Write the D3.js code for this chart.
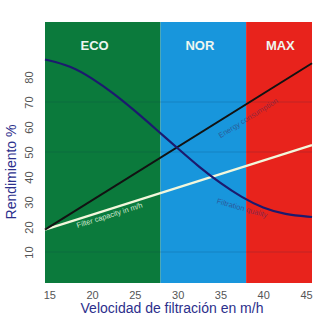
<!DOCTYPE html>
<html><head><meta charset="utf-8">
<script src="https://cdn.jsdelivr.net/npm/d3@7"></script>
<style>html,body{margin:0;padding:0;background:#fff;}svg{display:block;}</style>
</head><body>
<script>
const zoneNames = ["ECO","NOR","MAX"];
const zoneStart = [14.5, 28, 38];
const zoneEnd = [28, 38, 45.7];
const zoneLabelX = [20.3, 32.6, 42];
const zoneColors = ["#0b7a3c","#1896dc","#e8231c"];

const xTicks = [15,20,25,30,35,40,45];
const yTicks = [10,20,30,40,50,60,70,80];

const velocity = [14.5,17.5,20,22.5,25,27.5,30,32.5,35,37.5,40,42.5,45.7];
const rendimientoCurve = [87,84.5,79.5,73.5,66.5,59,51.5,44,37.5,31.8,27.5,25,24];
const lineVel = [15,45];
const blackLine = [20,84];
const capacityLine = [19.5,52];

const W=321,H=320;
const svg=d3.select("body").append("svg").attr("width",W).attr("height",H);
const x=d3.scaleLinear().domain([14.5,45.7]).range([45,312]);
const y=d3.scaleLinear().domain([-2.4,102]).range([283,22]);

svg.selectAll("rect.zone").data(zoneNames).enter().append("rect")
  .attr("x",(d,i)=>x(zoneStart[i])).attr("y",y(102))
  .attr("width",(d,i)=>x(zoneEnd[i])-x(zoneStart[i])).attr("height",y(-2.4)-y(102))
  .attr("fill",(d,i)=>zoneColors[i]);

svg.selectAll("line.grid").data([10,50,70]).enter().append("line")
  .attr("x1",x(14.5)).attr("x2",x(45.7)).attr("y1",d=>y(d)).attr("y2",d=>y(d))
  .attr("stroke","#0a2a50").attr("stroke-opacity",0.18).attr("stroke-width",1);

svg.selectAll("text.zone").data(zoneNames).enter().append("text")
  .attr("x",(d,i)=>x(zoneLabelX[i])).attr("y",50).attr("text-anchor","middle")
  .attr("font-family","Liberation Sans, Arial, sans-serif").attr("font-weight","bold")
  .attr("font-size",13).attr("fill","#eef6f0").text(d=>d);

const line=d3.line().x(d=>x(d[0])).y(d=>y(d[1]));
const curve=d3.line().x(d=>x(d[0])).y(d=>y(d[1])).curve(d3.curveBasis);

const lineExt = (vals)=>{ // extend to plot edges along the same straight line
  const s=(vals[1]-vals[0])/(lineVel[1]-lineVel[0]);
  return [[14.5,vals[0]+s*(14.5-lineVel[0])],[45.7,vals[1]+s*(45.7-lineVel[1])]];
};
svg.append("path").attr("d",line(lineExt(capacityLine)))
  .attr("fill","none").attr("stroke","#f2f7dc").attr("stroke-width",2.2);
svg.append("path").attr("d",line(lineExt(blackLine)))
  .attr("fill","none").attr("stroke","#121212").attr("stroke-width",2);
svg.append("path").attr("d",curve(velocity.map((v,i)=>[v,rendimientoCurve[i]])))
  .attr("fill","none").attr("stroke","#1c1a6e").attr("stroke-width",2.2);

function slopeAngle(x0,y0,x1,y1){return Math.atan2(y(y1)-y(y0),x(x1)-x(x0))*180/Math.PI;}
const capAng=slopeAngle(lineVel[0],capacityLine[0],lineVel[1],capacityLine[1]);
svg.append("text").attr("transform",`translate(${x(18.3)},${y(19.6)}) rotate(${capAng})`)
  .attr("font-family","Liberation Sans, Arial, sans-serif").attr("font-size",7.5)
  .attr("fill","#cfe8d0").text("Filter capacity in m/h");
const blkAng=slopeAngle(lineVel[0],blackLine[0],lineVel[1],blackLine[1]);
svg.append("text").attr("transform",`translate(${x(35)},${y(55.5)}) rotate(${blkAng})`)
  .attr("font-family","Liberation Sans, Arial, sans-serif").attr("font-size",7.5)
  .attr("fill","#3a2a5a").attr("fill-opacity",0.55).text("Energy consumption");
svg.append("text").attr("transform",`translate(${x(34.5)},${y(29.5)}) rotate(16)`)
  .attr("font-family","Liberation Sans, Arial, sans-serif").attr("font-size",7.5)
  .attr("fill","#3a2a6a").attr("fill-opacity",0.6).text("Filtration quality");

const xAxis=svg.append("g").attr("transform",`translate(0,${y(-2.4)})`)
  .call(d3.axisBottom(x).tickValues(xTicks).tickSize(0).tickPadding(8));
xAxis.select(".domain").remove();
xAxis.selectAll("text").attr("font-family","Liberation Sans, Arial, sans-serif").attr("font-size",11).attr("fill","#555");

const yAxis=svg.append("g").attr("transform",`translate(${x(14.5)},0)`)
  .call(d3.axisLeft(y).tickValues(yTicks).tickSize(0).tickPadding(0));
yAxis.select(".domain").remove();
yAxis.selectAll("text").attr("font-family","Liberation Sans, Arial, sans-serif").attr("font-size",11).attr("fill","#555")
  .attr("text-anchor","middle").attr("dy",0)
  .attr("transform","translate(-12,0) rotate(-90)").attr("x",0).attr("y",0);

svg.append("text").attr("x",172).attr("y",313).attr("text-anchor","middle")
  .attr("font-family","Liberation Sans, Arial, sans-serif").attr("font-size",14)
  .attr("fill","#2c2f8c").text("Velocidad de filtración en m/h");
svg.append("text").attr("transform","translate(16,172) rotate(-90)").attr("text-anchor","middle")
  .attr("font-family","Liberation Sans, Arial, sans-serif").attr("font-size",14)
  .attr("fill","#2c2f8c").text("Rendimiento %");
</script>
</body></html>
